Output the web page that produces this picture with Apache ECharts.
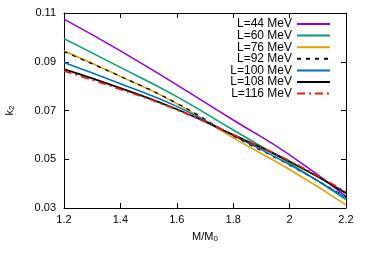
<!DOCTYPE html>
<html>
<head>
<meta charset="utf-8">
<script src="https://cdn.jsdelivr.net/npm/echarts@6/dist/echarts.min.js"></script>
<style>html,body{margin:0;padding:0;background:#fff}#c{width:367px;height:258px}</style>
</head>
<body>
<div id="c"></div>
<script>
const masses = [1.2, 1.4, 1.6, 1.8, 2.0, 2.2];
const L44 = [0.1075, 0.0945, 0.0805, 0.0661, 0.0518, 0.0348];
const L60 = [0.0995, 0.0877, 0.0757, 0.0620, 0.0484, 0.0334];
const L76 = [0.0945, 0.0840, 0.0728, 0.0588, 0.0458, 0.0313];
const L92 = [0.0941, 0.0840, 0.0730, 0.0596, 0.0476, 0.0345];
const L100 = [0.0897, 0.0810, 0.0717, 0.0598, 0.0478, 0.0342];
const L108 = [0.0870, 0.0792, 0.0705, 0.0600, 0.0491, 0.0361];
const L116 = [0.0862, 0.0787, 0.0703, 0.0601, 0.0493, 0.0366];
const seriesNames = ['L=44 MeV', 'L=60 MeV', 'L=76 MeV', 'L=92 MeV', 'L=100 MeV', 'L=108 MeV', 'L=116 MeV'];
const seriesValues = [L44, L60, L76, L92, L100, L108, L116];

const styles = [
  {color: '#9400d3', width: 1.5, type: 'solid'},
  {color: '#009e73', width: 1.5, type: 'solid'},
  {color: '#e69f00', width: 1.5, type: 'solid'},
  {color: '#000000', width: 1.3, type: [4, 5]},
  {color: '#0072b2', width: 1.5, type: 'solid'},
  {color: '#000000', width: 1.8, type: 'solid'},
  {color: '#e51e10', width: 1.8, type: [8, 4, 2, 4]}
];

const font = 'Liberation Sans, Arial, sans-serif';
const chart = echarts.init(document.getElementById('c'), null, {renderer: 'canvas'});
const tickCommon = {inside: true, length: 5, lineStyle: {color: '#000', width: 1}};
const lineCommon = {show: true, lineStyle: {color: '#000', width: 1}};

chart.setOption({
  animation: false,
  backgroundColor: '#fff',
  grid: {left: 64, right: 21, top: 13, bottom: 50, containLabel: false, outerBoundsMode: 'none'},
  legend: {
    orient: 'vertical',
    right: 36,
    top: 18,
    padding: 0,
    align: 'right',
    itemWidth: 33,
    itemHeight: 8,
    itemGap: -0.4,
    itemStyle: {opacity: 0},
    textStyle: {fontFamily: font, fontSize: 12, color: '#000', lineHeight: 11},
    data: seriesNames
  },
  xAxis: [{
    type: 'value', min: 1.2, max: 2.2, interval: 0.2,
    axisLine: lineCommon, axisTick: tickCommon, splitLine: {show: false},
    axisLabel: {fontFamily: font, fontSize: 11, color: '#000', margin: 6},
    name: 'M/M{s|0}', nameLocation: 'middle', nameGap: 22,
    nameTextStyle: {fontFamily: font, fontSize: 11, color: '#000',
      rich: {s: {fontFamily: font, fontSize: 8, color: '#000', padding: [5, 0, 0, 0]}}}
  }, {
    type: 'value', min: 1.2, max: 2.2, interval: 0.2, position: 'top',
    axisLine: lineCommon, axisTick: tickCommon, splitLine: {show: false},
    axisLabel: {show: false}
  }],
  yAxis: [{
    type: 'value', min: 0.03, max: 0.11, interval: 0.02,
    axisLine: lineCommon, axisTick: tickCommon, splitLine: {show: false},
    axisLabel: {fontFamily: font, fontSize: 11, color: '#000', margin: 8},
    name: 'k{s|2}', nameLocation: 'middle', nameRotate: 90, nameGap: 48,
    nameTextStyle: {fontFamily: font, fontSize: 11, color: '#000',
      rich: {s: {fontFamily: font, fontSize: 8, color: '#000', padding: [5, 0, 0, 0]}}}
  }, {
    type: 'value', min: 0.03, max: 0.11, interval: 0.02, position: 'right',
    axisLine: lineCommon, axisTick: tickCommon, splitLine: {show: false},
    axisLabel: {show: false}
  }],
  series: seriesNames.map((name, i) => ({
    name: name,
    type: 'line',
    symbol: 'none',
    smooth: 0.5,
    xAxisIndex: 0,
    yAxisIndex: 0,
    lineStyle: styles[i],
    itemStyle: {color: styles[i].color},
    data: masses.map((m, j) => [m, seriesValues[i][j]])
  }))
});
</script>
</body>
</html>
